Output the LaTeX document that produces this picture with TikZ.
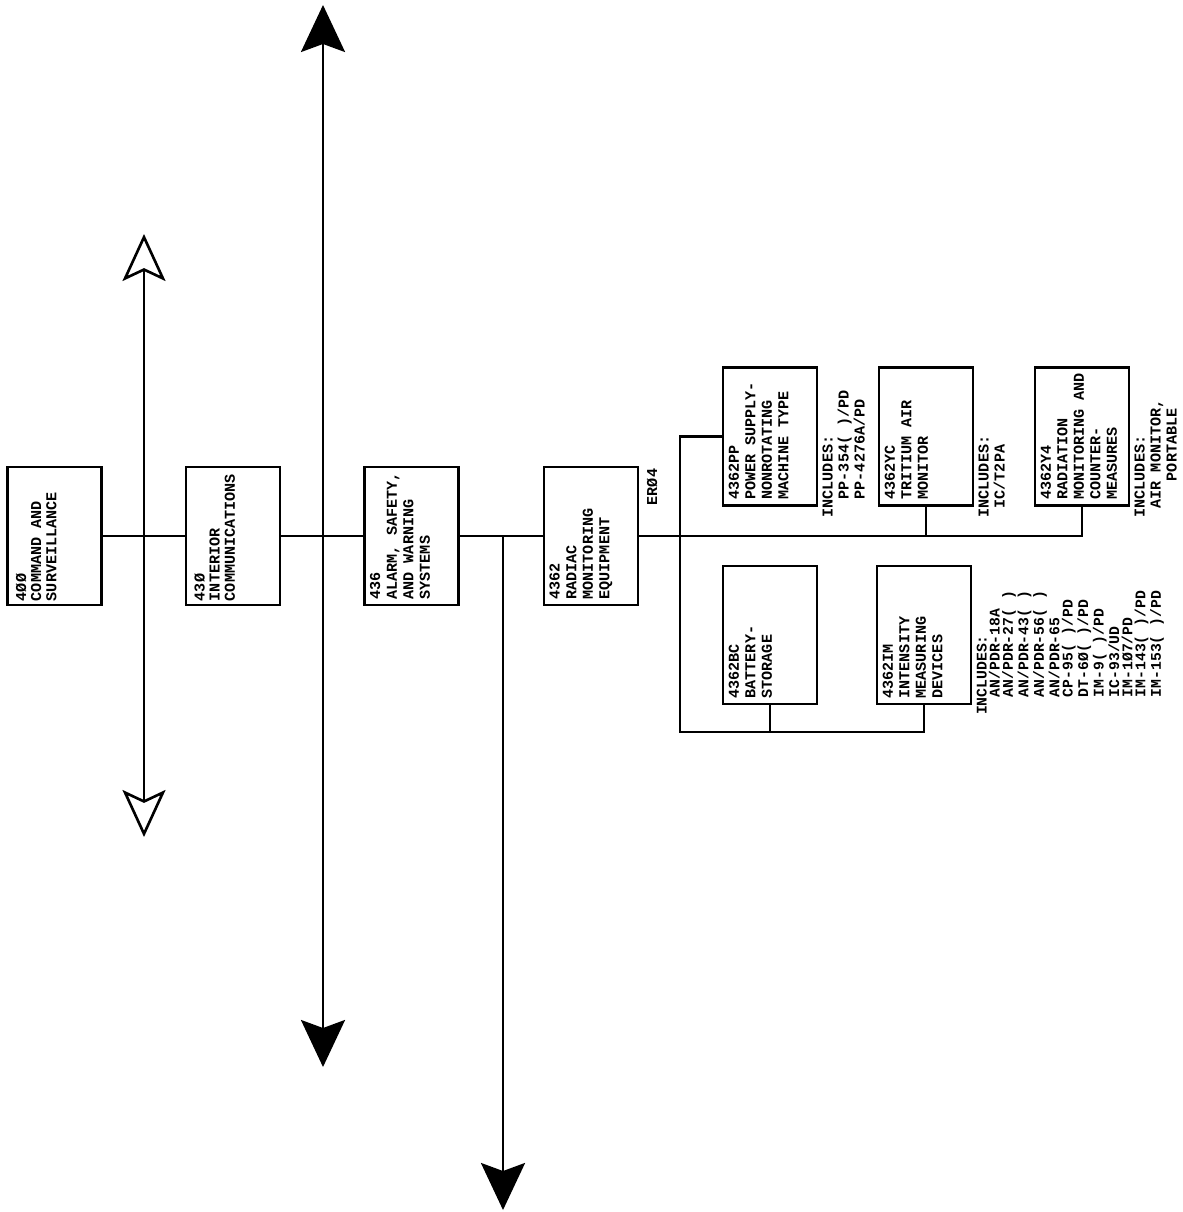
\documentclass[tikz,border=0pt]{standalone}
\usepackage{fontspec}
\setmonofont{Liberation Mono}
\usetikzlibrary{arrows.meta}
\colorlet{line col}{black}
\tikzset{block/.style={draw=line col, line width=1.6pt, minimum width=1.88cm,
        minimum height=2.76cm, inner sep=0pt, outer sep=0pt},
    link/.style={draw=line col, line width=1.5pt},
    blocktext/.style={rotate=90, anchor=north west, align=left, inner sep=3pt,
        font=\ttfamily\bfseries\fontsize{8.6}{9.4}\selectfont},
    boldtext/.style={blocktext, inner xsep=2pt, inner ysep=4.5pt,
        font=\ttfamily\bfseries\fontsize{8.6}{8.6}\selectfont},
    listtext/.style={blocktext, font=\ttfamily\bfseries\fontsize{8.6}{9.1}\selectfont},
    FatTip/.tip={Stealth[length=9.4mm, width=8.8mm, inset=1.6mm]},
    HollowTip/.tip={Stealth[open, fill=white, length=9.4mm, width=8.6mm, inset=2mm]}}

\begin{document}
\begin{tikzpicture}[x=0.02cm, y=-0.02cm]
    \useasboundingbox (0,0) rectangle (1182,1212);
    % chain of systems
    \node[block] (b400)  at (54.5,536) {};
    \node[block] (b430)  at (233,536)  {};
    \node[block] (b436)  at (411.5,536) {};
    \node[block] (b4362) at (591,536)  {};
    \node[boldtext]  (t400)  at (b400.south west)  {4ØØ\\COMMAND AND\\SURVEILLANCE};
    \node[boldtext]  (t430)  at (b430.south west)  {43Ø\\INTERIOR\\COMMUNICATIONS};
    \node[blocktext] (t436)  at (b436.south west)  {436\\ALARM, SAFETY,\\AND WARNING\\SYSTEMS};
    \node[blocktext] (t4362) at (b4362.south west) {4362\\RADIAC\\MONITORING\\EQUIPMENT};
    \node[rotate=90, font=\ttfamily\bfseries\fontsize{8.6}{9.4}\selectfont] (er) at (652,487) {ERØ4};
    % sub items
    \node[block] (pp) at (770,436.5)  {};
    \node[block] (yc) at (926,436.5)  {};
    \node[block] (y4) at (1082,436.5) {};
    \node[block] (bc) at (770,635)    {};
    \node[block] (im) at (924,635)    {};
    \node[blocktext] (tpp) at (pp.south west) {4362PP\\POWER SUPPLY-\\NONROTATING\\MACHINE TYPE};
    \node[blocktext] (tyc) at (yc.south west) {4362YC\\TRITIUM AIR\\MONITOR};
    \node[blocktext] (ty4) at (y4.south west) {4362Y4\\RADIATION\\MONITORING AND\\COUNTER-\\MEASURES};
    \node[blocktext] (tbc) at (bc.south west) {4362BC\\BATTERY-\\STORAGE};
    \node[blocktext] (tim) at (im.south west) {4362IM\\INTENSITY\\MEASURING\\DEVICES};
    \node[listtext] (inc-pp) at ([yshift=-3.5mm]pp.south east) {INCLUDES:\\~~PP-354(~)/PD\\~~PP-4276A/PD};
    \node[listtext] (inc-yc) at ([yshift=-3.5mm]yc.south east) {INCLUDES:\\~IC/T2PA};
    \node[listtext] (inc-y4) at ([yshift=-3.5mm]y4.south east) {INCLUDES:\\~AIR MONITOR,\\~~~~PORTABLE};
    \node[listtext, font=\ttfamily\bfseries\fontsize{8.4}{7.5}\selectfont] (inc-im)
      at ([yshift=-3.3mm]im.south east)
      {INCLUDES:\\~~AN/PDR-18A\\~~AN/PDR-27(~)\\~~AN/PDR-43(~)\\~~AN/PDR-56(~)\\~~AN/PDR-65\\
       ~~CP-95(~)/PD\\~~DT-6Ø(~)/PD\\~~IM-9(~)/PD\\~~IC-93/UD\\~~IM-1Ø7/PD\\~~IM-143(~)/PD\\~~IM-153(~)/PD};
    % connectors
    \coordinate (tee)     at (503,536);
    \coordinate (forkend) at (680,732);
    \coordinate (dropend) at (503,1210);
    \draw[link] (b400.east) -- (b430.west);
    \draw[link] (b430.east) -- (b436.west);
    \draw[link] (b436.east) -- (b4362.west);
    \draw[link] (b4362.east) -| (y4.south);
    \draw[link] (yc.south) -- (yc.south |- b4362.east);
    \draw[link] (pp.west) -| (forkend) -| (im.south);
    \draw[link] (bc.south) -- (bc.south |- forkend);
    \draw[link, -FatTip] (tee) -- (dropend);
    % long arrows
    \coordinate (up1) at (323,5);
    \coordinate (dn1) at (323,1067);
    \coordinate (up2) at (144,234);
    \coordinate (dn2) at (144,837);
    \draw[link, FatTip-FatTip] (dn1) -- (up1);
    \draw[link, HollowTip-HollowTip] (dn2) -- (up2);
\end{tikzpicture}
\end{document}
